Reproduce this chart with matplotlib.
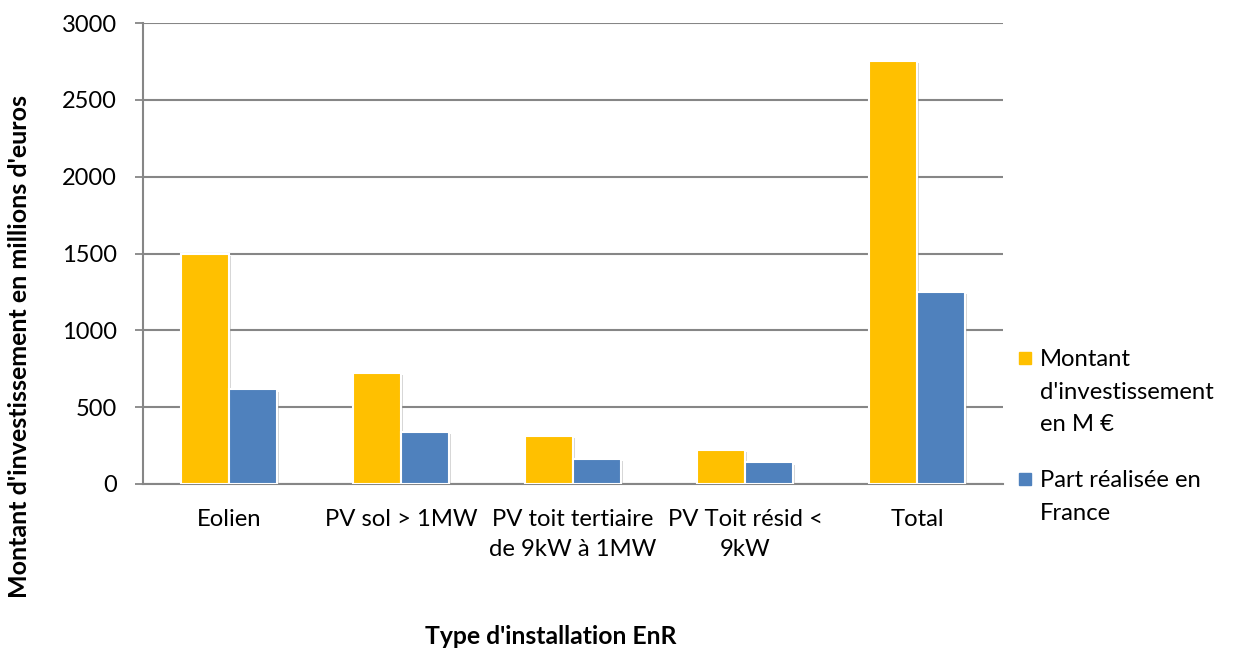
import numpy as np
import matplotlib.pyplot as plt
import matplotlib.patheffects as pe
from matplotlib.patches import Rectangle

categories = ["Eolien", "PV sol > 1MW", "PV toit tertiaire\nde 9kW à 1MW",
              "PV Toit résid <\n9kW", "Total"]
montant = [1500, 720, 310, 220, 2750]
part_france = [615, 340, 160, 140, 1250]
series_names = ["Montant\nd'investissement\nen M €", "Part réalisée en\nFrance"]
colors = ["#FFC000", "#4F81BD"]

plt.rcParams['font.family'] = ['Lato', 'DejaVu Sans']

fig = plt.figure(figsize=(12.34, 6.5), dpi=100)
ax = fig.add_axes([143 / 1234, 1 - 484 / 650, 860 / 1234, 461 / 650])

x = np.arange(len(categories))
w = 0.28
shadow = [pe.SimplePatchShadow(offset=(1.5, -1.5), shadow_rgbFace='#999999', alpha=0.4), pe.Normal()]
b1 = ax.bar(x - w / 2, montant, w, color=colors[0], edgecolor='white', linewidth=1.5, zorder=3)
b2 = ax.bar(x + w / 2, part_france, w, color=colors[1], edgecolor='white', linewidth=1.5, zorder=3)
for b in list(b1) + list(b2):
    b.set_path_effects(shadow)

ax.set_xlim(-0.5, len(categories) - 0.5)
ax.set_ylim(0, 3000)
ax.set_yticks(range(0, 3001, 500))
ax.set_xticks(x)
ax.set_xticklabels(categories, fontsize=17.2, linespacing=1.5)
ax.tick_params(axis='x', length=0, pad=18)
ax.tick_params(axis='y', length=6, width=1.3, color='#868686', labelsize=17, pad=13)
ax.grid(axis='y', color='#868686', linewidth=1.5, zorder=0)
for s in ['top', 'right']:
    ax.spines[s].set_visible(False)
for s in ['left', 'bottom']:
    ax.spines[s].set_color('#868686')
    ax.spines[s].set_linewidth(1.5)

fig.text(551 / 1234, 1 - 636 / 650, "Type d'installation EnR", fontsize=17.8,
         fontweight='bold', ha='center', va='center')
fig.text(20 / 1234, 1 - 346 / 650, "Montant d'investissement en millions d'euros",
         fontsize=18, fontweight='bold', ha='center', va='center', rotation=90)

# legend drawn by hand so the square sits on the first line
leg_y = [358, 479]
for name, c, yy in zip(series_names, colors, leg_y):
    fig.patches.append(Rectangle((1019 / 1234, 1 - (yy + 6) / 650), 12 / 1234, 12 / 650,
                                 transform=fig.transFigure, color=c))
    fig.text(1040 / 1234, 1 - (yy - 9) / 650, name, fontsize=17.2, ha='left', va='top',
             linespacing=1.68)

fig.savefig('out.png', dpi=100)
